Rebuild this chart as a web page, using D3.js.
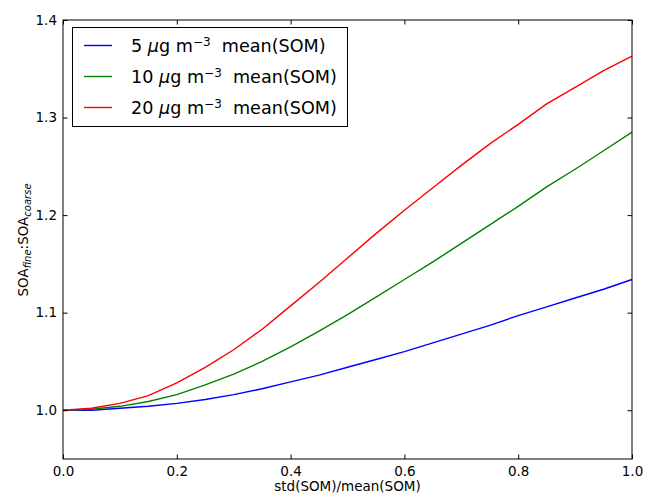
<!DOCTYPE html>
<html>
<head>
<meta charset="utf-8">
<script src="https://cdn.jsdelivr.net/npm/d3@7"></script>
<style>
  body { margin: 0; background: #fff; }
  svg { font-family: "DejaVu Sans", sans-serif; }
</style>
</head>
<body>
<div class="grafico"></div>
<script>
/*Datos*/
const xVals = [0, 0.05, 0.1, 0.15, 0.2, 0.25, 0.3, 0.35, 0.4, 0.45, 0.5, 0.55, 0.6, 0.65, 0.7, 0.75, 0.8, 0.85, 0.9, 0.95, 1.0];
const som5 = [1.000, 1.000, 1.002, 1.004, 1.007, 1.011, 1.016, 1.022, 1.029, 1.036, 1.044, 1.052, 1.060, 1.069, 1.078, 1.087, 1.097, 1.106, 1.115, 1.124, 1.134];
const som10 = [1.000, 1.001, 1.004, 1.009, 1.016, 1.026, 1.037, 1.050, 1.065, 1.081, 1.098, 1.116, 1.134, 1.152, 1.171, 1.190, 1.209, 1.229, 1.247, 1.266, 1.285];
const som20 = [1.000, 1.002, 1.007, 1.015, 1.028, 1.044, 1.062, 1.083, 1.107, 1.131, 1.156, 1.181, 1.205, 1.228, 1.251, 1.273, 1.293, 1.314, 1.331, 1.348, 1.363];
const seriesNames = ['5', '10', '20'];
const xTicks = [0, 0.2, 0.4, 0.6, 0.8, 1.0];
const yTicks = [1.0, 1.1, 1.2, 1.3, 1.4];

const w = 646;
const h = 496;
const mLeft = 63, mRight = 632, mTop = 20, mBottom = 459;

const series = [
  { name: seriesNames[0], values: som5, color: '#0000ff' },
  { name: seriesNames[1], values: som10, color: '#008000' },
  { name: seriesNames[2], values: som20, color: '#ff0000' }
];

/*Escalas*/
const xScale = d3.scaleLinear().domain([0, 1]).range([mLeft, mRight]);
const yScale = d3.scaleLinear().domain([0.95, 1.4]).range([mBottom, mTop]);

const svg = d3.select('.grafico')
  .append('svg')
  .attr('width', w)
  .attr('height', h);

/*Lineas*/
const line = d3.line()
  .x((d, i) => xScale(xVals[i]))
  .y(d => yScale(d));

svg.selectAll('path.serie')
  .data(series)
  .enter()
  .append('path')
  .attr('class', 'serie')
  .attr('d', d => line(d.values))
  .attr('fill', 'none')
  .attr('stroke', d => d.color)
  .attr('stroke-width', 1.4);

/*Ejes con ticks hacia adentro*/
const tl = 4.5;
const fmt = d3.format('.1f');

svg.append('g').attr('id', 'x-axis')
  .attr('transform', `translate(0,${mBottom})`)
  .call(d3.axisBottom(xScale).tickValues(xTicks).tickFormat(fmt).tickSizeInner(-tl).tickSizeOuter(0).tickPadding(7));
svg.append('g')
  .attr('transform', `translate(0,${mTop})`)
  .call(d3.axisTop(xScale).tickValues(xTicks).tickFormat('').tickSizeInner(-tl).tickSizeOuter(0));
svg.append('g').attr('id', 'y-axis')
  .attr('transform', `translate(${mLeft},0)`)
  .call(d3.axisLeft(yScale).tickValues(yTicks).tickFormat(fmt).tickSizeInner(-tl).tickSizeOuter(0).tickPadding(6));
svg.append('g')
  .attr('transform', `translate(${mRight},0)`)
  .call(d3.axisRight(yScale).tickValues(yTicks).tickFormat('').tickSizeInner(-tl).tickSizeOuter(0));

svg.selectAll('.domain').remove();
svg.selectAll('.tick line').attr('stroke', '#000').attr('stroke-width', 1);
svg.selectAll('.tick text')
  .attr('font-family', '"DejaVu Sans", sans-serif')
  .attr('font-size', 13.5)
  .attr('fill', '#000');

/*Marco*/
svg.append('rect')
  .attr('x', mLeft).attr('y', mTop)
  .attr('width', mRight - mLeft).attr('height', mBottom - mTop)
  .attr('fill', 'none').attr('stroke', '#000').attr('stroke-width', 1);

/*Texto de ejes*/
svg.append('text')
  .attr('x', (mLeft + mRight) / 2)
  .attr('y', 490.5)
  .attr('text-anchor', 'middle')
  .attr('font-size', 13.5)
  .text('std(SOM)/mean(SOM)');

const yl = svg.append('text')
  .attr('transform', 'translate(28,240) rotate(-90)')
  .attr('text-anchor', 'middle')
  .attr('font-size', 13.5);
yl.append('tspan').text('SOA');
yl.append('tspan').attr('font-style', 'italic').attr('font-size', 10).attr('dy', 3).text('fine');
yl.append('tspan').attr('dy', -3).text(':SOA');
yl.append('tspan').attr('font-style', 'italic').attr('font-size', 10).attr('dy', 3).text('coarse');

/*Leyenda*/
const legend = svg.append('g');
legend.append('rect')
  .attr('x', 72.5).attr('y', 27.5)
  .attr('width', 275).attr('height', 99)
  .attr('fill', '#fff').attr('stroke', '#000').attr('stroke-width', 1);

series.forEach((s, i) => {
  const yy = 45.5 + i * 31;
  legend.append('line')
    .attr('x1', 84).attr('x2', 112)
    .attr('y1', yy).attr('y2', yy)
    .attr('stroke', s.color).attr('stroke-width', 1.4);
  const t = legend.append('text')
    .attr('x', 131)
    .attr('y', yy + 6.5)
    .attr('font-size', 17.6);
  t.append('tspan').text(s.name + ' ');
  t.append('tspan').attr('font-style', 'italic').text('μ');
  t.append('tspan').text('g m');
  t.append('tspan').attr('font-size', 12).attr('dy', -6.5).text('−3');
  t.append('tspan').attr('dy', 6.5).text('\u00a0 mean(SOM)');
});
</script>
</body>
</html>
